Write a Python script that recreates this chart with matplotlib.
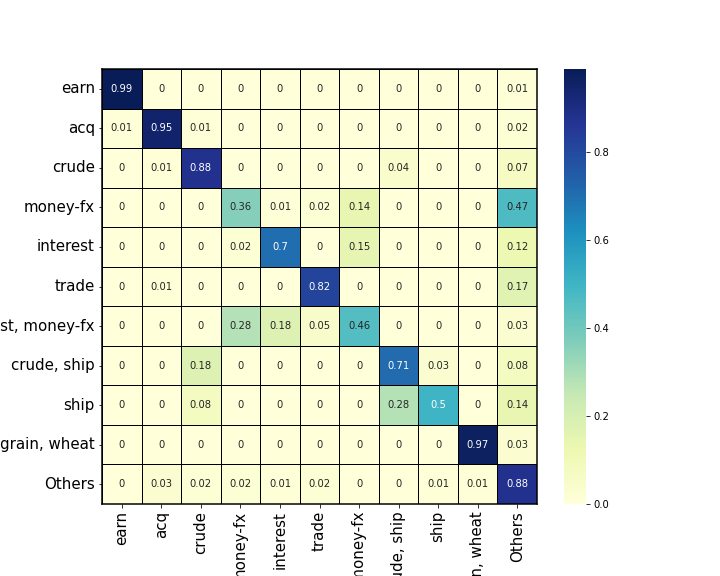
import matplotlib
matplotlib.use("Agg")
import matplotlib.pyplot as plt
import seaborn as sns
import numpy as np

labels = ["earn", "acq", "crude", "money-fx", "interest", "trade",
          "interest, money-fx", "crude, ship", "ship", "grain, wheat", "Others"]

row_earn = [0.99, 0, 0, 0, 0, 0, 0, 0, 0, 0, 0.01]
row_acq = [0.01, 0.95, 0.01, 0, 0, 0, 0, 0, 0, 0, 0.02]
row_crude = [0, 0.01, 0.88, 0, 0, 0, 0, 0.04, 0, 0, 0.07]
row_money_fx = [0, 0, 0, 0.36, 0.01, 0.02, 0.14, 0, 0, 0, 0.47]
row_interest = [0, 0, 0, 0.02, 0.7, 0, 0.15, 0, 0, 0, 0.12]
row_trade = [0, 0.01, 0, 0, 0, 0.82, 0, 0, 0, 0, 0.17]
row_int_money = [0, 0, 0, 0.28, 0.18, 0.05, 0.46, 0, 0, 0, 0.03]
row_crude_ship = [0, 0, 0.18, 0, 0, 0, 0, 0.71, 0.03, 0, 0.08]
row_ship = [0, 0, 0.08, 0, 0, 0, 0, 0.28, 0.5, 0, 0.14]
row_grain_wheat = [0, 0, 0, 0, 0, 0, 0, 0, 0, 0.97, 0.03]
row_others = [0, 0.03, 0.02, 0.02, 0.01, 0.02, 0, 0, 0.01, 0.01, 0.88]

cm = np.array([row_earn, row_acq, row_crude, row_money_fx, row_interest, row_trade,
               row_int_money, row_crude_ship, row_ship, row_grain_wheat, row_others])

W, H = 720, 576
fig = plt.figure(figsize=(10, 8), dpi=72)
# placed to match the saved layout (pixels -> figure fractions)
ax = fig.add_axes([102 / W, 1 - 504 / H, 435 / W, 435 / H])
cax = fig.add_axes([564 / W, 1 - 504 / H, 22 / W, 435 / H])

sns.heatmap(cm, annot=True, cmap="YlGnBu", square=True,
            linewidths=1, linecolor="black",
            xticklabels=labels, yticklabels=labels,
            ax=ax, cbar_ax=cax)

# frame around the matrix
for s in ax.spines.values():
    s.set_visible(True)
    s.set_linewidth(1.5)

ax.tick_params(axis="x", labelrotation=90, labelsize=15)
ax.tick_params(axis="y", labelrotation=0, labelsize=15)

plt.savefig("out.png", dpi=72)
